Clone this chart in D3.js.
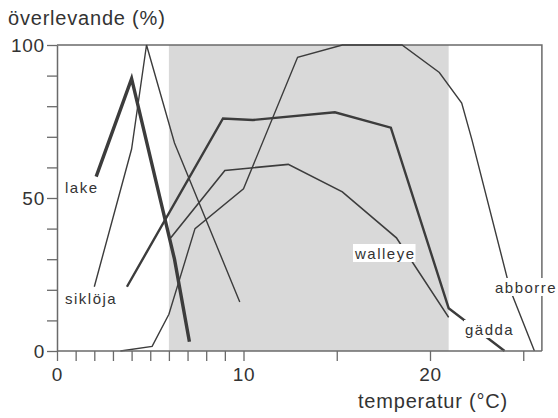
<!DOCTYPE html>
<html>
<head>
<meta charset="utf-8">
<script src="https://cdn.jsdelivr.net/npm/d3@7/dist/d3.min.js"></script>
<style>
  html, body { margin: 0; padding: 0; background: #fff; }
  svg { display: block; font-family: "Liberation Sans", Arial, Helvetica, sans-serif; }
</style>
</head>
<body>
<svg id="chart" width="558" height="418"></svg>
<script>
// Survival (%) of fish eggs/larvae against water temperature (°C)
const lakeTemp     = [2.1, 4.0, 6.3, 7.1];
const lakeSurv     = [57, 89, 30, 3];

const sikTemp      = [2.0, 4.0, 4.8, 6.3, 9.8];
const sikSurv      = [21, 66, 100, 68, 16];

const gaddaTemp    = [3.75, 8.9, 10.5, 14.9, 17.9, 21.0, 24.0];
const gaddaSurv    = [21, 76, 75.5, 78, 73, 14, 0];

const walleyeTemp  = [6.1, 9.0, 12.4, 15.3, 18.2, 21.0];
const walleyeSurv  = [37, 59, 61, 52, 37, 11];

const abborreTemp  = [3.4, 5.1, 6.0, 7.4, 10.0, 12.9, 15.3, 18.5, 20.5, 21.7, 22.25, 24.3, 25.6];
const abborreSurv  = [0, 1.5, 12, 40, 53, 96, 100, 100, 91, 81, 69, 20, 0];

// Temperature band drawn as a shaded interval
const bandRange    = [6, 21];

// Axis ticks
const xTicks       = [0,1,2,3,4,5,6,7,8,9,10,15,20,25];
const xTickLabels  = [0, 10, 20];
const yTicks       = [0,10,20,30,40,50,60,70,80,90,100];
const yTickLabels  = [0, 50, 100];

const svg = d3.select("#chart");
const W = 558, H = 418;
const m = { left: 57, right: 16.1, top: 45, bottom: 67 };

const x = d3.scaleLinear().domain([0, 26]).range([m.left, W - m.right]);
const y = d3.scaleLinear().domain([0, 100]).range([H - m.bottom, m.top]);

const ink = "#3c3c3c";
const frameInk = "#6a6a6a";

// shaded band
svg.append("rect")
  .attr("x", x(bandRange[0]))
  .attr("y", y(100))
  .attr("width", x(bandRange[1]) - x(bandRange[0]))
  .attr("height", y(0) - y(100))
  .attr("fill", "#d9d9d9");

// frame: top and right edges
svg.append("path")
  .attr("d", `M${x(0)},${y(100)}H${x(26)}V${y(0)}`)
  .attr("fill", "none")
  .attr("stroke", frameInk)
  .attr("stroke-width", 1.5);

// species curves
const line = d3.line().x(d => x(d[0])).y(d => y(d[1]));
const zip = (a, b) => a.map((v, i) => [v, b[i]]);

const series = [
  { name: "abborre", pts: zip(abborreTemp, abborreSurv), w: 1.4 },
  { name: "siklöja", pts: zip(sikTemp, sikSurv), w: 1.4 },
  { name: "walleye", pts: zip(walleyeTemp, walleyeSurv), w: 1.6 },
  { name: "gädda",   pts: zip(gaddaTemp, gaddaSurv), w: 2.4 },
  { name: "lake",    pts: zip(lakeTemp, lakeSurv), w: 3.4 }
];

svg.append("g").selectAll("path")
  .data(series)
  .join("path")
  .attr("d", d => line(d.pts))
  .attr("fill", "none")
  .attr("stroke", ink)
  .attr("stroke-width", d => d.w)
  .attr("stroke-linejoin", "miter")
  .attr("stroke-linecap", "butt");

// axes
const xAxis = d3.axisBottom(x)
  .tickValues(xTicks)
  .tickSize(10)
  .tickSizeOuter(0)
  .tickPadding(7)
  .tickFormat(d => xTickLabels.includes(d) ? d : "");

const gx = svg.append("g")
  .attr("transform", `translate(0,${y(0)})`)
  .call(xAxis);

// extend baseline to the right frame edge
gx.select(".domain").attr("d", `M${x(0)},0H${x(26)}`);

const yAxis = d3.axisLeft(y)
  .tickValues(yTicks)
  .tickSize(10)
  .tickSizeOuter(0)
  .tickPadding(2)
  .tickFormat(d => yTickLabels.includes(d) ? d : "");

const gy = svg.append("g")
  .attr("transform", `translate(${x(0)},0)`)
  .call(yAxis);

[gx, gy].forEach(g => {
  g.select(".domain").attr("stroke", frameInk).attr("stroke-width", 1.5);
  g.selectAll(".tick line").attr("stroke", frameInk).attr("stroke-width", 1.3);
  g.selectAll(".tick text")
    .attr("fill", "#333")
    .style("font-size", "19px")
    .style("letter-spacing", "0.8px")
    .style("font-family", "'Liberation Sans', Arial, sans-serif");
});

// species labels on white patches
const labels = [
  { text: "lake",    x: 65,  y: 193 },
  { text: "siklöja", x: 65,  y: 304 },
  { text: "walleye", x: 355, y: 259 },
  { text: "gädda",   x: 465, y: 335 },
  { text: "abborre", x: 495, y: 293 }
];

const lg = svg.append("g");
labels.forEach(l => {
  const g = lg.append("g");
  const r = g.append("rect").attr("fill", "#fff");
  const t = g.append("text")
    .attr("x", l.x)
    .attr("y", l.y)
    .attr("fill", "#333")
    .style("font-size", "15px")
    .style("letter-spacing", "1.5px")
    .text(l.text);
  const b = t.node().getBBox();
  r.attr("x", b.x - 1).attr("y", b.y - 1)
   .attr("width", b.width + 1).attr("height", b.height + 1);
});

// axis titles
svg.append("text")
  .attr("x", 8)
  .attr("y", 25)
  .attr("fill", "#333")
  .style("font-size", "20px")
  .style("letter-spacing", "0.8px")
  .text("överlevande (%)");

svg.append("text")
  .attr("x", 358)
  .attr("y", 408)
  .attr("fill", "#333")
  .style("font-size", "20px")
  .style("letter-spacing", "0.8px")
  .text("temperatur (°C)");
</script>
</body>
</html>
